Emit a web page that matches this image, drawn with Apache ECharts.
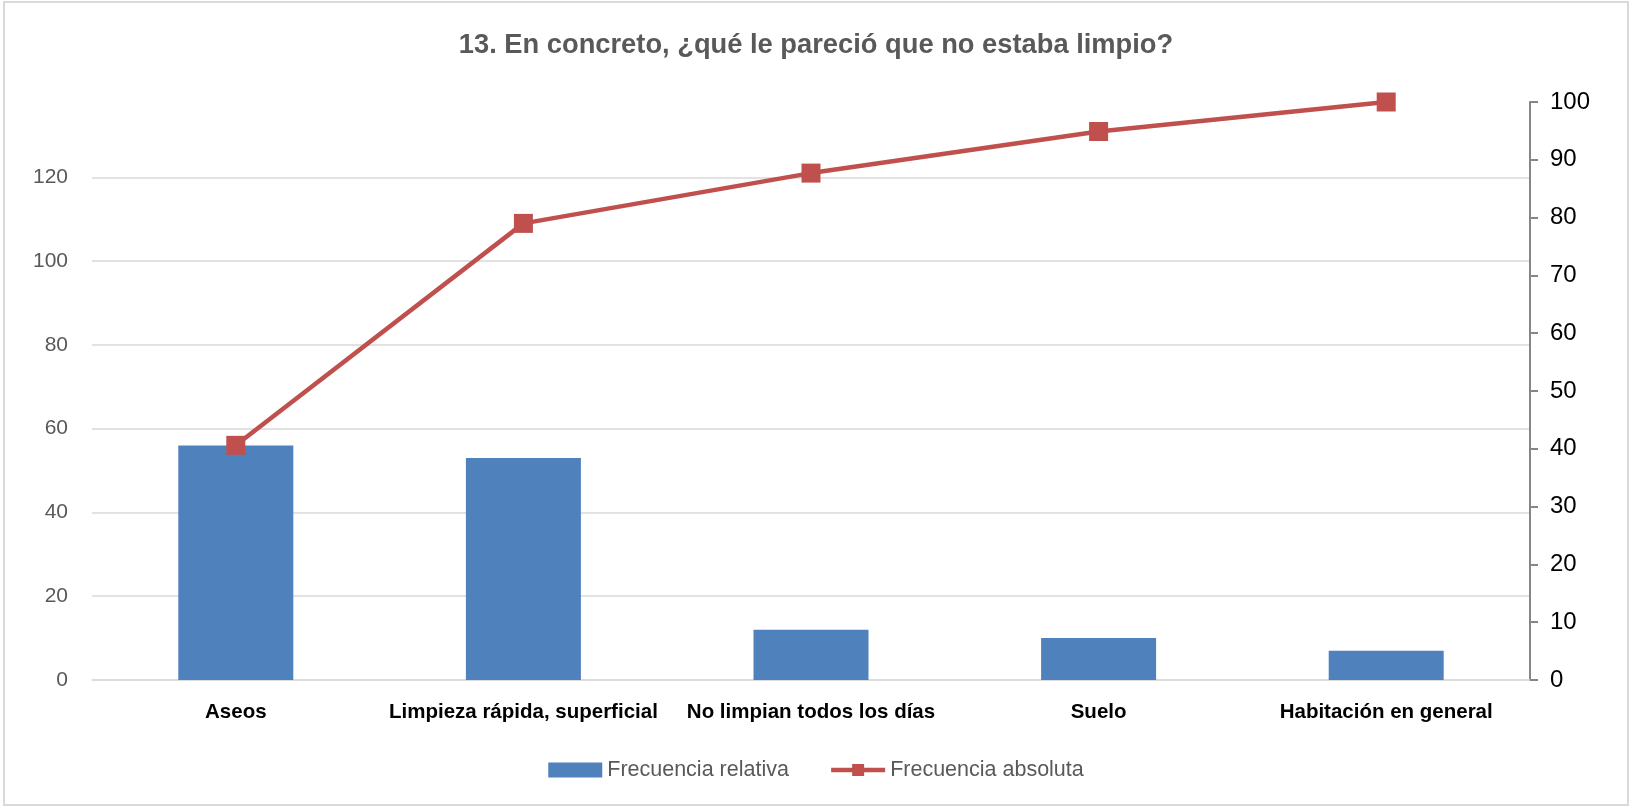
<!DOCTYPE html>
<html>
<head>
<meta charset="utf-8">
<script src="https://cdn.jsdelivr.net/npm/echarts@6/dist/echarts.min.js"></script>
<style>
html,body{margin:0;padding:0;background:#fff;}
#chart{width:1632px;height:808px;}
</style>
</head>
<body>
<div id="chart"></div>
<script>
const title = '13. En concreto, ¿qué le pareció que no estaba limpio?';
const categories = ['Aseos', 'Limpieza rápida, superficial', 'No limpian todos los días', 'Suelo', 'Habitación en general'];
const barName = 'Frecuencia relativa';
const lineName = 'Frecuencia absoluta';
const barValues = [56, 53, 12, 10, 7];
const lineValues = [40.6, 79.0, 87.7, 94.9, 100];
const leftMax = 138;
const leftInterval = 20;
const rightMax = 100;
const rightInterval = 10;

const chart = echarts.init(document.getElementById('chart'), null, {renderer: 'canvas'});
const font = 'Liberation Sans, Arial, sans-serif';
// grid line colours: hide the last (max) line
const nLeftLines = Math.floor(leftMax / leftInterval) + 2;
const splitColors = [];
for (let i = 0; i < nLeftLines; i++) splitColors.push(i === nLeftLines - 1 ? 'rgba(0,0,0,0)' : '#d9d9d9');

chart.setOption({
  animation: false,
  backgroundColor: '#ffffff',
  textStyle: {fontFamily: font},
  graphic: [{
    type: 'rect', silent: true, z: -1,
    shape: {x: 4, y: 2, width: 1624, height: 803},
    style: {fill: 'none', stroke: '#d9d9d9', lineWidth: 2}
  }],
  title: {
    text: title,
    left: 'center',
    top: 27,
    textStyle: {fontFamily: font, fontSize: 27.3, fontWeight: 'bold', color: '#595959'}
  },
  legend: {
    top: 759,
    left: 'center',
    padding: 0,
    itemGap: 40,
    itemWidth: 54,
    itemHeight: 15,
    textStyle: {fontFamily: font, fontSize: 21.5, color: '#595959'},
    data: [
      {name: barName, icon: 'rect'},
      {name: lineName, lineStyle: {width: 4.5, color: '#C0504D'}}
    ]
  },
  grid: {left: 92, right: 102, top: 102, bottom: 128, containLabel: false},
  xAxis: {
    type: 'category',
    data: categories,
    axisLine: {show: true, lineStyle: {color: '#d9d9d9', width: 1.5}},
    axisTick: {show: false},
    axisLabel: {interval: 0, fontFamily: font, fontSize: 20.5, fontWeight: 'bold', color: '#000', margin: 22}
  },
  yAxis: [
    {
      type: 'value', min: 0, max: leftMax, interval: leftInterval,
      axisLine: {show: false}, axisTick: {show: false},
      axisLabel: {fontFamily: font, fontSize: 21, color: '#595959', margin: 24, showMaxLabel: false},
      splitLine: {show: true, lineStyle: {color: splitColors, width: 1.5}}
    },
    {
      type: 'value', min: 0, max: rightMax, interval: rightInterval, position: 'right',
      axisLine: {show: true, lineStyle: {color: '#868686', width: 2}},
      axisTick: {show: true, inside: false, length: 8, lineStyle: {color: '#868686', width: 2}},
      axisLabel: {fontFamily: font, fontSize: 24, color: '#000', margin: 20},
      splitLine: {show: false}
    }
  ],
  series: [
    {
      name: barName, type: 'bar', data: barValues, yAxisIndex: 0,
      barWidth: 115,
      itemStyle: {color: '#4F81BD'}
    },
    {
      name: lineName, type: 'line', data: lineValues, yAxisIndex: 1,
      symbol: 'rect', symbolSize: 19,
      lineStyle: {color: '#C0504D', width: 4.5},
      itemStyle: {color: '#C0504D'},
      z: 3
    }
  ]
});
</script>
</body>
</html>
